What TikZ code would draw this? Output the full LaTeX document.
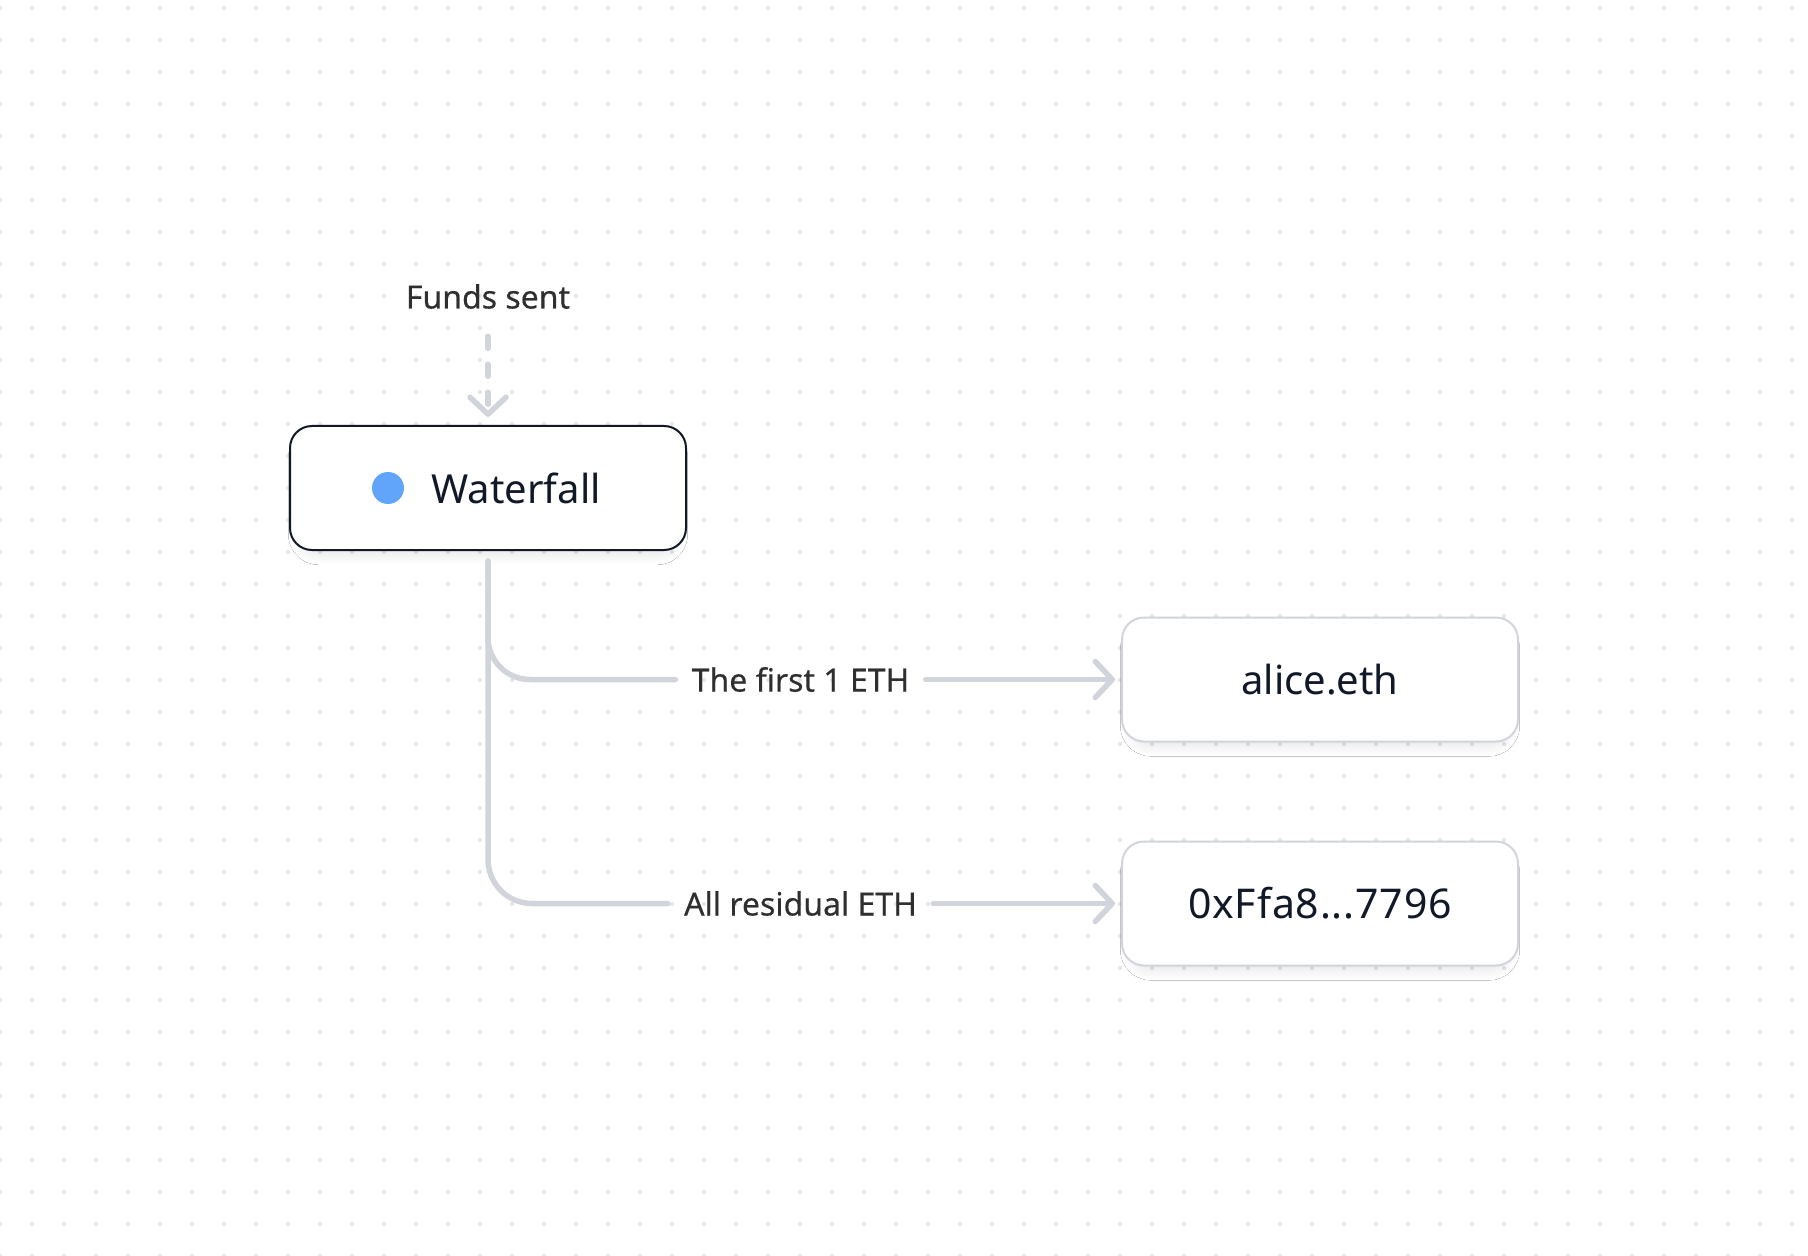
\documentclass[tikz,border=0pt]{standalone}
\usepackage{fontspec}
\setmainfont{Noto Sans}
\newfontfamily\labelfont{Noto Sans}[FakeBold=0.35]
\usetikzlibrary{arrows.meta,shadows.blur}
\definecolor{conncol}{HTML}{D1D5DB}
\definecolor{griddot}{HTML}{E4E4E7}
\definecolor{ink}{HTML}{111827}
\definecolor{labelink}{HTML}{2F2F2F}
\definecolor{dotblue}{HTML}{60A5FA}
\definecolor{boxline}{HTML}{D1D5DB}
\tikzset{
  cardbox/.style={draw, fill=white, line width=1pt, rounded corners=11pt,
    minimum width=198pt, minimum height=62pt, inner sep=0pt,
    blur shadow={shadow xshift=0pt, shadow yshift=-4pt, shadow blur radius=5pt,
      shadow opacity=10, shadow blur steps=12, shadow scale=0.96}},
  maincard/.style={cardbox, draw=ink},
  sidecard/.style={cardbox, draw=boxline},
  cardtext/.style={font=\fontsize{20pt}{24pt}\selectfont, text=ink, inner sep=0pt},
  edgelabel/.style={font=\labelfont\fontsize{16pt}{19pt}\selectfont, text=labelink, inner xsep=8pt, inner ysep=0pt},
  conn/.style={draw=conncol, line width=2.75pt, line cap=round, line join=round},
  chevtip/.style={-{Straight Barb[length=8.5pt,width=18pt,round]}},
}
\begin{document}
\begin{tikzpicture}[x=0.5pt,y=-0.5pt]
\useasboundingbox (0,0) rectangle (1808,1256);
\fill[white] (0,0) rectangle (1808,1256);
% dot grid
\foreach \i in {0,...,56}{
  \foreach \j in {0,...,39}{
    \fill[griddot] (32*\i, 8+32*\j) circle (1pt);
  }
}
% nodes
\node[edgelabel, inner xsep=0pt] (funds) at (488,296.5) {Funds sent};
\node[maincard] (wf) at (488,488) {};
\node[circle, fill=dotblue, minimum size=16pt, inner sep=0pt] (wfdot) at (388,488) {};
\node[cardtext] (wftext) at (516,488) {Waterfall};
\node[sidecard] (alice) at (1320,679.5) {};
\node[cardtext] (alicetext) at (1320,679.5) {alice.eth};
\node[sidecard] (addr) at (1320,903.5) {};
\node[cardtext, font=\fontsize{20.5pt}{24pt}\selectfont\addfontfeatures{LetterSpace=2}] (addrtext) at (1320,903.5) {0xFfa8...7796};
\node[edgelabel] (l1) at (800.5,679.5) {The first 1 ETH};
\node[edgelabel] (l2) at (800.5,903.5) {All residual ETH};
% connectors
\draw[conn, chevtip, dash pattern=on 6pt off 8pt, shorten <=13.5pt, shorten >=4pt] (funds.south) -- (wf.north);
\draw[conn, rounded corners=22pt, shorten <=5pt] (wf.south) |- (l2.west);
\draw[conn, rounded corners=21pt, shorten <=5pt] (wf.south) |- (l1.west);
\draw[conn, chevtip, shorten >=3pt] (l1.east) -- (alice.west);
\draw[conn, chevtip, shorten >=3pt] (l2.east) -- (addr.west);
\end{tikzpicture}
\end{document}
